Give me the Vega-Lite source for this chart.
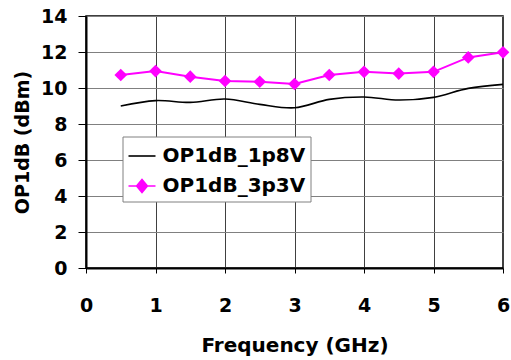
{
  "$schema": "https://vega.github.io/schema/vega-lite/v6.json",
  "width": 417,
  "height": 252,
  "autosize": {"type": "none"},
  "padding": {"left": 86, "top": 16, "right": 8, "bottom": 92},
  "background": "white",
  "config": {
    "view": {"stroke": "black", "strokeWidth": 1.5},
    "axis": {
      "labelFont": "DejaVu Sans", "labelFontWeight": "bold", "labelFontSize": 19, "labelColor": "black",
      "titleFont": "DejaVu Sans", "titleFontWeight": "bold", "titleColor": "black",
      "domainColor": "black", "domainWidth": 2, "tickColor": "black", "tickWidth": 1
    }
  },
  "data": {
    "values": [
      {"f": 0.5, "op": 9.0, "s": "OP1dB_1p8V"},
      {"f": 1.0, "op": 9.3, "s": "OP1dB_1p8V"},
      {"f": 1.5, "op": 9.2, "s": "OP1dB_1p8V"},
      {"f": 2.0, "op": 9.39, "s": "OP1dB_1p8V"},
      {"f": 2.5, "op": 9.09, "s": "OP1dB_1p8V"},
      {"f": 3.0, "op": 8.9, "s": "OP1dB_1p8V"},
      {"f": 3.5, "op": 9.37, "s": "OP1dB_1p8V"},
      {"f": 4.0, "op": 9.5, "s": "OP1dB_1p8V"},
      {"f": 4.5, "op": 9.33, "s": "OP1dB_1p8V"},
      {"f": 5.0, "op": 9.48, "s": "OP1dB_1p8V"},
      {"f": 5.5, "op": 9.98, "s": "OP1dB_1p8V"},
      {"f": 6.0, "op": 10.2, "s": "OP1dB_1p8V"},
      {"f": 0.5, "op": 10.72, "s": "OP1dB_3p3V"},
      {"f": 1.0, "op": 10.94, "s": "OP1dB_3p3V"},
      {"f": 1.5, "op": 10.63, "s": "OP1dB_3p3V"},
      {"f": 2.0, "op": 10.39, "s": "OP1dB_3p3V"},
      {"f": 2.5, "op": 10.35, "s": "OP1dB_3p3V"},
      {"f": 3.0, "op": 10.22, "s": "OP1dB_3p3V"},
      {"f": 3.5, "op": 10.72, "s": "OP1dB_3p3V"},
      {"f": 4.0, "op": 10.9, "s": "OP1dB_3p3V"},
      {"f": 4.5, "op": 10.8, "s": "OP1dB_3p3V"},
      {"f": 5.0, "op": 10.9, "s": "OP1dB_3p3V"},
      {"f": 5.5, "op": 11.7, "s": "OP1dB_3p3V"},
      {"f": 6.0, "op": 11.98, "s": "OP1dB_3p3V"}
    ]
  },
  "encoding": {
    "x": {
      "field": "f", "type": "quantitative", "title": "Frequency (GHz)",
      "scale": {"domain": [0, 6], "nice": false},
      "axis": {"values": [0, 1, 2, 3, 4, 5, 6], "grid": true, "gridColor": "#404040", "gridWidth": 1, "gridOpacity": 1,
               "tickSize": 5, "labelPadding": 23, "titleFontSize": 20, "titlePadding": 20, "labelFlush": false}
    },
    "y": {
      "field": "op", "type": "quantitative", "title": "OP1dB (dBm)",
      "scale": {"domain": [0, 14], "nice": false},
      "axis": {"values": [0, 2, 4, 6, 8, 10, 12, 14], "grid": true, "gridColor": "#808080", "gridWidth": 1, "gridOpacity": 1,
               "tickSize": 8, "labelPadding": 11, "titleFontSize": 19, "titlePadding": 8}
    },
    "color": {
      "field": "s", "type": "nominal",
      "scale": {"domain": ["OP1dB_1p8V", "OP1dB_3p3V"], "range": ["black", "#FF00FF"]}
    }
  },
  "layer": [
    {
      "transform": [{"filter": "datum.s === 'OP1dB_1p8V'"}],
      "mark": {"type": "line", "interpolate": "catmull-rom", "strokeWidth": 1.6},
      "encoding": {
        "color": {
          "field": "s", "type": "nominal",
          "scale": {"domain": ["OP1dB_1p8V", "OP1dB_3p3V"], "range": ["black", "#FF00FF"]},
          "legend": {
            "orient": "none", "legendX": 36.5, "legendY": 120.5, "direction": "vertical", "title": null,
            "fillColor": "white", "strokeColor": "#808080", "padding": 5,
            "labelFont": "DejaVu Sans", "labelFontWeight": "bold", "labelFontSize": 20, "labelColor": "black",
            "labelOffset": 6, "rowPadding": 5, "symbolSize": 729, "symbolStrokeWidth": 1.6,
            "encode": {
              "symbols": {
                "update": {
                  "shape": {"signal": "datum.value === 'OP1dB_3p3V' ? 'M-1,0L1,0M0,-0.48L0.4,0L0,0.48L-0.4,0Z' : 'M-1,0L1,0'"},
                  "fill": {"signal": "datum.value === 'OP1dB_3p3V' ? '#FF00FF' : 'transparent'"},
                  "stroke": {"signal": "datum.value === 'OP1dB_3p3V' ? '#FF00FF' : 'black'"},
                  "strokeWidth": {"value": 1.6},
                  "opacity": {"value": 1}
                }
              }
            }
          }
        }
      }
    },
    {
      "transform": [{"filter": "datum.s === 'OP1dB_3p3V'"}],
      "mark": {"type": "line", "strokeWidth": 2},
      "encoding": {"color": {"field": "s", "type": "nominal", "legend": null}}
    },
    {
      "transform": [{"filter": "datum.s === 'OP1dB_3p3V'"}],
      "mark": {"type": "point", "shape": "diamond", "filled": true, "size": 160, "opacity": 1},
      "encoding": {"color": {"field": "s", "type": "nominal", "legend": null}}
    }
  ]
}
